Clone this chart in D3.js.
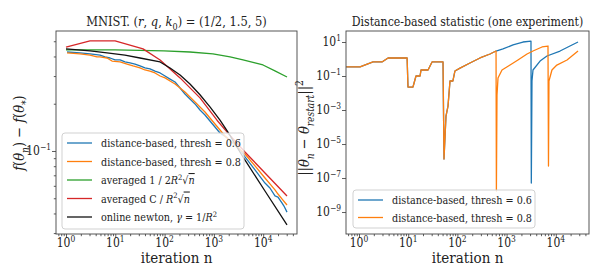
<!DOCTYPE html>
<html><head><meta charset="utf-8">
<script src="https://cdn.jsdelivr.net/npm/d3@7"></script>
<style>body{margin:0;background:#fff}svg{display:block}</style>
</head><body><svg id="c" width="598" height="268"></svg>
<script>
// ---------- DATA ----------
const blueN   = [1.05,1.92,3.07,4.9,6.18,7.81,9.9,12.5,15.7,19.9,25.1,31.7,40,50.6,63.9,81,102,129,163,206,259,327,414,522,660,832,1052,1330,1680,2330,3390,4270,6820,10870,13700,17350,19950,24000,26400,30400];
const blueV   = [0.427,0.421,0.415,0.408,0.397,0.391,0.380,0.380,0.369,0.3635,0.358,0.348,0.338,0.333,0.323,0.314,0.300,0.287,0.275,0.252,0.2307,0.2144,0.1993,0.1825,0.1696,0.1553,0.1422,0.1302,0.124,0.1141,0.1022,0.0916,0.0757,0.0625,0.0581,0.0517,0.0509,0.0467,0.0446,0.0408];
const orangeN = [1.05,1.92,3.07,4.25,4.9,6.8,8.57,12.5,17.3,22.9,31.7,40,50.6,63.9,81,102,129,163,206,259,327,414,522,660,832,1052,1330,1680,2330,3390,4270,6820,10870,13700,17350,19950,24000,30400];
const orangeV = [0.421,0.415,0.408,0.397,0.397,0.391,0.374,0.369,0.358,0.348,0.338,0.328,0.323,0.314,0.3004,0.292,0.279,0.267,0.252,0.2375,0.2208,0.2051,0.1907,0.1772,0.1623,0.1486,0.1361,0.1246,0.1136,0.1022,0.0957,0.0803,0.0673,0.0617,0.0565,0.0532,0.0495,0.0453];
const greenN  = [1,9.9,97,327,955,2130,3900,6820,9910,17300,30400];
const greenV  = [0.440,0.440,0.434,0.427,0.415,0.397,0.380,0.364,0.353,0.324,0.296];
const redN    = [1,3.07,9.9,36.5,81,206,522,1155,1930,4270,30400];
const redV    = [0.459,0.502,0.502,0.447,0.380,0.292,0.218,0.157,0.130,0.0985,0.0517];
const blackN  = [1,3.07,6.8,15.7,31.7,81,129,206,327,522,832,1330,1930,3890,10870,30400];
const blackV  = [0.447,0.434,0.421,0.408,0.391,0.369,0.338,0.305,0.267,0.228,0.191,0.157,0.132,0.0916,0.0556,0.0338];
const leftLegend = ["distance-based, thresh = 0.6","distance-based, thresh = 0.8","averaged 1 / 2R²√n","averaged C / R²√n","online newton, γ = 1/R²"];

const r08N = [0.55,1.05,1.93,2.93,3.9,9.5,9.9,12.5,14.4,17.4,18.2,25.3,30.5,51,53.4,58.6,64.4,70.7,81,89,113,180,288,460,610,620,638,669,806,1175,1700,2600,3440,5250,6940,7100,7260,8350,10500,16900,28300];
const r08V = [0.34,0.34,0.67,0.67,1.15,1.15,0.0225,0.0225,0.1,0.1,0.225,0.225,0.67,0.67,1.3e-6,4.4e-4,1.7e-3,0.051,0.051,0.197,0.29,0.58,1.15,1.97,2.95,1.7e-8,7.6e-3,0.076,0.225,0.44,0.87,1.97,2.95,5.1,5.8,5.1e-7,0.051,0.225,0.44,0.87,2.95];
const r06N = [0.55,1.05,1.93,2.93,3.9,9.5,9.9,12.5,14.4,17.4,18.2,25.3,30.5,51,53.4,58.6,64.4,70.7,81,89,113,180,288,460,610,845,1350,2150,3130,3180,3280,3440,4790,6610,12200,19400,28300];
const r06V = [0.34,0.34,0.67,0.67,1.15,1.15,0.0225,0.0225,0.1,0.1,0.225,0.225,0.67,0.67,1.3e-6,4.4e-4,1.7e-3,0.051,0.051,0.197,0.29,0.58,1.15,1.97,2.95,3.9,6.7,10,11.4,5.1e-8,0.051,0.225,0.76,1.5,2.95,5.8,10];
const rightLegend = ["distance-based, thresh = 0.6","distance-based, thresh = 0.8"];
const xMajor = [1,10,100,1000,10000];
const xExp = ["0","1","2","3","4"];
const rightYMajor = [1e1,1e-1,1e-3,1e-5,1e-7,1e-9];
const rightYExp = ["1","−1","−3","−5","−7","−9"];
const leftYMajor = [0.1];
const leftYExp = ["−1"];

const C = {blue:"#1f77b4",orange:"#ff7f0e",green:"#2ca02c",red:"#d62728",black:"#111"};
const FONT = "'DejaVu Serif Condensed','DejaVu Serif'";
const svg = d3.select("#c").style("font-family", FONT).style("font-stretch","condensed");

function rich(sel, parts, size){
  sel.style("font-family",FONT).style("font-stretch","condensed").attr("fill","#222");
  let shift = 0;
  parts.forEach(p=>{
    const s = typeof p==="string"?{t:p}:p;
    const target = s.sub? size*0.32 : s.sup? -size*0.42 : 0;
    const ts = sel.append("tspan").text(s.t).attr("dy", target-shift);
    shift = target;
    if(s.it) ts.attr("font-style","italic");
    if(s.sub||s.sup) ts.attr("font-size", size*0.7);
    if(s.ov) ts.attr("text-decoration","overline");
  });
  return sel;
}

function minorTicks(dom){
  const out=[]; const lo=Math.floor(Math.log10(dom[0])), hi=Math.ceil(Math.log10(dom[1]));
  for(let e=lo;e<=hi;e++) for(let k=2;k<=9;k++){const v=k*Math.pow(10,e); if(v>=dom[0]&&v<=dom[1]) out.push(v);}
  return out;
}

function panel(opt){
  const g = svg.append("g");
  const x = d3.scaleLog().domain(opt.xd).range([opt.x0,opt.x1]);
  const y = d3.scaleLog().domain(opt.yd).range([opt.y1,opt.y0]);
  const clipId = "clip"+opt.id;
  svg.append("clipPath").attr("id",clipId).append("rect")
    .attr("x",opt.x0).attr("y",opt.y0).attr("width",opt.x1-opt.x0).attr("height",opt.y1-opt.y0);
  const line = d3.line().x(d=>x(d[0])).y(d=>y(d[1]));
  const lg = g.append("g").attr("clip-path",`url(#${clipId})`);
  opt.series.forEach(s=>{
    lg.append("path").datum(s.n.map((n,i)=>[n,s.v[i]])).attr("d",line)
      .attr("fill","none").attr("stroke",s.c).attr("stroke-width",1.3).attr("stroke-linejoin","round");
  });
  g.append("g").attr("transform",`translate(0,${opt.y1})`)
    .call(d3.axisBottom(x).tickValues(xMajor).tickFormat("").tickSize(4).tickSizeOuter(0));
  g.append("g").attr("transform",`translate(0,${opt.y1})`)
    .call(d3.axisBottom(x).tickValues(minorTicks(opt.xd)).tickFormat("").tickSize(2.2).tickSizeOuter(0));
  xMajor.forEach((v,i)=>{
    const t=g.append("text").attr("x",x(v)).attr("y",opt.y1+13).attr("text-anchor","middle").attr("font-size",12);
    rich(t,["10",{t:xExp[i],sup:true}],12);
  });
  g.append("g").attr("transform",`translate(${opt.x0},0)`)
    .call(d3.axisLeft(y).tickValues(opt.yMajor).tickFormat("").tickSize(4).tickSizeOuter(0));
  if(opt.yMinor) g.append("g").attr("transform",`translate(${opt.x0},0)`)
    .call(d3.axisLeft(y).tickValues(opt.yMinor).tickFormat("").tickSize(2.2).tickSizeOuter(0));
  opt.yMajor.forEach((v,i)=>{
    const t=g.append("text").attr("x",opt.x0-5).attr("y",y(v)+4).attr("text-anchor","end").attr("font-size",12);
    rich(t,["10",{t:opt.yExp[i],sup:true}],12);
  });
  g.selectAll(".domain").remove();
  g.selectAll(".tick text").remove();
  g.selectAll(".tick line").attr("stroke","#333").attr("stroke-width",0.8);
  g.append("rect").attr("x",opt.x0).attr("y",opt.y0).attr("width",opt.x1-opt.x0).attr("height",opt.y1-opt.y0)
    .attr("fill","none").attr("stroke","#444").attr("stroke-width",0.9);
  const tt=g.append("text").attr("x",(opt.x0+opt.x1)/2).attr("y",opt.y0-5).attr("text-anchor","middle").attr("font-size",opt.tSize);
  rich(tt,opt.title,opt.tSize);
  const xl=g.append("text").attr("x",(opt.x0+opt.x1)/2).attr("y",263).attr("text-anchor","middle").attr("font-size",15);
  rich(xl,["iteration n"],15);
  const yl=g.append("text").attr("transform",`translate(${opt.ylx},${opt.yly}) rotate(-90)`).attr("text-anchor","middle").attr("font-size",opt.ylSize);
  rich(yl,opt.ylabel,opt.ylSize);
  const L=opt.legend;
  g.append("rect").attr("x",L.x).attr("y",L.y).attr("width",L.w).attr("height",L.h).attr("rx",3)
    .attr("fill","#fff").attr("fill-opacity",0.8).attr("stroke","#ccc").attr("stroke-width",0.9);
  L.items.forEach((it,i)=>{
    const yy=L.y+L.pad+i*L.step;
    g.append("line").attr("x1",L.x+5).attr("x2",L.x+30).attr("y1",yy).attr("y2",yy).attr("stroke",it.c).attr("stroke-width",1.3);
    const t=g.append("text").attr("x",L.x+39).attr("y",yy+4).attr("font-size",10.7);
    rich(t,it.parts,10.7);
  });
}

panel({id:"L",x0:56,x1:297,y0:31,y1:234,xd:[0.627,48500],yd:[0.0296,0.581],tSize:12.8,
  yMajor:leftYMajor,yExp:leftYExp,yMinor:[0.03,0.04,0.05,0.06,0.07,0.08,0.09,0.2,0.3,0.4,0.5],
  series:[{n:blueN,v:blueV,c:C.blue},{n:orangeN,v:orangeV,c:C.orange},{n:greenN,v:greenV,c:C.green},{n:redN,v:redV,c:C.red},{n:blackN,v:blackV,c:C.black}],
  title:["MNIST. (",{t:"r",it:true},", ",{t:"q",it:true},", ",{t:"k",it:true},{t:"0",sub:true},") = (1/2, 1.5, 5)"],
  ylabel:[{t:"f",it:true},"(",{t:"θ",it:true},{t:"n",sub:true,it:true},") − ",{t:"f",it:true},"(",{t:"θ",it:true},{t:"*",sub:true},")"],
  ylx:24,yly:133,ylSize:14.5,
  legend:{x:62,y:133,w:182,h:96,pad:10,step:18.5,items:[
    {c:C.blue,parts:[leftLegend[0]]},
    {c:C.orange,parts:[leftLegend[1]]},
    {c:C.green,parts:["averaged 1 / 2",{t:"R",it:true},{t:"2",sup:true},"√",{t:"n",it:true,ov:true}]},
    {c:C.red,parts:["averaged C / ",{t:"R",it:true},{t:"2",sup:true},"√",{t:"n",it:true,ov:true}]},
    {c:C.black,parts:["online newton, ",{t:"γ",it:true}," = 1/",{t:"R",it:true},{t:"2",sup:true}]}]}
});

panel({id:"R",x0:346,x1:589,y0:31,y1:234,xd:[0.544,47300],yd:[5.1e-11,44.4],tSize:12.2,
  yMajor:rightYMajor,yExp:rightYExp,yMinor:null,
  series:[{n:r06N,v:r06V,c:C.blue},{n:r08N,v:r08V,c:C.orange}],
  title:["Distance-based statistic (one experiment)"],
  ylabel:["||",{t:"θ",it:true},{t:"n",sub:true,it:true}," − ",{t:"θ",it:true},{t:"restart",sub:true,it:true},"||",{t:"2",sup:true}],
  ylx:309,yly:128,ylSize:14.5,
  legend:{x:353,y:190,w:182,h:38,pad:10,step:17.5,items:[
    {c:C.blue,parts:[rightLegend[0]]},{c:C.orange,parts:[rightLegend[1]]}]}
});
</script></body></html>
